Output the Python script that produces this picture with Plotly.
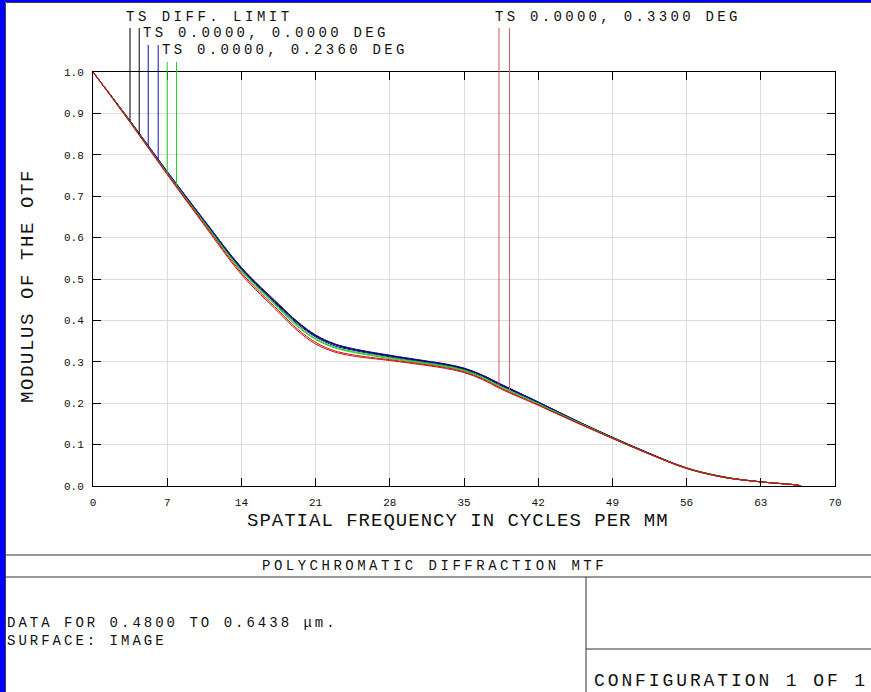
import numpy as np
import plotly.graph_objects as go

# ---- data -------------------------------------------------------------
freq = [0, 3.5, 7, 10.5, 14, 17.5, 19.25, 21, 22.75, 24.5, 28, 31.5, 33.25, 35,
        36.75, 38.5, 42, 45.5, 49, 52.5, 56, 59.5, 63, 66.5, 66.8]

diff_t = [1.000, 0.882, 0.759, 0.641, 0.527, 0.438, 0.397, 0.364, 0.343, 0.331, 0.315, 0.301,
          0.294, 0.284, 0.267, 0.245, 0.203, 0.159, 0.118, 0.079, 0.044, 0.022, 0.010, 0.002, 0.0]
diff_s = [1.000, 0.881, 0.757, 0.639, 0.525, 0.436, 0.395, 0.362, 0.342, 0.330, 0.314, 0.300,
          0.293, 0.283, 0.266, 0.244, 0.202, 0.158, 0.117, 0.078, 0.043, 0.022, 0.010, 0.002, 0.0]
f000_t = [1.000, 0.882, 0.760, 0.642, 0.528, 0.440, 0.398, 0.365, 0.344, 0.332, 0.316, 0.302,
          0.295, 0.285, 0.268, 0.246, 0.203, 0.159, 0.117, 0.078, 0.043, 0.021, 0.010, 0.002, 0.0]
f000_s = [1.000, 0.880, 0.757, 0.638, 0.523, 0.434, 0.392, 0.360, 0.339, 0.328, 0.312, 0.298,
          0.291, 0.281, 0.264, 0.242, 0.201, 0.157, 0.116, 0.078, 0.043, 0.021, 0.010, 0.002, 0.0]
f236_t = [1.000, 0.879, 0.755, 0.635, 0.519, 0.429, 0.386, 0.354, 0.334, 0.323, 0.308, 0.295,
          0.288, 0.278, 0.261, 0.238, 0.198, 0.156, 0.116, 0.077, 0.043, 0.021, 0.010, 0.002, 0.0]
f236_s = [1.000, 0.880, 0.756, 0.637, 0.521, 0.431, 0.389, 0.356, 0.336, 0.325, 0.310, 0.297,
          0.290, 0.280, 0.263, 0.240, 0.199, 0.157, 0.116, 0.077, 0.043, 0.021, 0.010, 0.002, 0.0]
f330_t = [1.000, 0.878, 0.752, 0.630, 0.511, 0.420, 0.376, 0.343, 0.324, 0.314, 0.303, 0.291,
          0.284, 0.274, 0.257, 0.234, 0.195, 0.154, 0.115, 0.077, 0.042, 0.021, 0.010, 0.002, 0.0]
f330_s = [1.000, 0.879, 0.754, 0.633, 0.515, 0.424, 0.380, 0.347, 0.327, 0.317, 0.305, 0.293,
          0.286, 0.276, 0.259, 0.236, 0.196, 0.155, 0.115, 0.077, 0.043, 0.021, 0.010, 0.002, 0.0]

# frequencies where each curve's label leader line meets it (T, S)
leader_freq = {
    "diff": (3.49, 4.36),
    "f000": (5.21, 6.15),
    "f236": (7.00, 7.88),
    "f330": (38.3, 39.3),
}

field_labels = ["TS DIFF. LIMIT", "TS 0.0000, 0.0000 DEG",
                "TS 0.0000, 0.2360 DEG", "TS 0.0000, 0.3300 DEG"]
x_ticks = [0, 7, 14, 21, 28, 35, 42, 49, 56, 63, 70]
y_ticks = [0.0, 0.1, 0.2, 0.3, 0.4, 0.5, 0.6, 0.7, 0.8, 0.9, 1.0]

# ---- page geometry ----------------------------------------------------
W, H = 871, 692
L, R, T, B = 93, 36, 72, 206
PW, PH = W - L - R, H - T - B


def px(xp):
    return (xp - L) / PW


def py(yp):
    return (H - B - yp) / PH


FONT = "Liberation Mono"
TEXT = "#111111"
BLUE, GREEN, RED = "#1010b0", "#20d020", "#d01010"

series = [
    ("diff", diff_t, diff_s, "#000000", 28),
    ("f000", f000_t, f000_s, BLUE, 45),
    ("f236", f236_t, f236_s, GREEN, 62),
    ("f330", f330_t, f330_s, RED, 28),
]

fig = go.Figure()
for key, yt, ys, col, _ in series:
    for yv in (yt, ys):
        fig.add_trace(go.Scatter(
            x=freq, y=yv, mode="lines",
            line=dict(color=col, width=1, shape="spline", smoothing=1.0),
            hoverinfo="skip", showlegend=False))

shapes = []
# leader lines from the label block down to each curve
for key, yt, ys, col, top in series:
    lcol = "rgb(205,95,105)" if key == "f330" else col
    for f, yv in zip(leader_freq[key], (yt, ys)):
        yend = float(np.interp(f, freq, yv))
        shapes.append(dict(type="line", xref="paper", yref="paper",
                           x0=f / 70, x1=f / 70, y0=py(top), y1=yend,
                           line=dict(color=lcol, width=1)))

# window frame
shapes += [
    dict(type="rect", xref="paper", yref="paper", x0=px(0), x1=px(5), y0=py(H), y1=py(0),
         fillcolor="#0000ff", line=dict(width=0), layer="above"),
    dict(type="rect", xref="paper", yref="paper", x0=px(0), x1=px(W), y0=py(2), y1=py(0),
         fillcolor="#0000ff", line=dict(width=0), layer="above"),
    dict(type="line", xref="paper", yref="paper", x0=px(5.5), x1=px(5.5), y0=py(H), y1=py(2.5),
         line=dict(color="#404040", width=1), layer="above"),
    dict(type="line", xref="paper", yref="paper", x0=px(5.5), x1=px(W), y0=py(2.5), y1=py(2.5),
         line=dict(color="#404040", width=1), layer="above"),
]
# info box at the bottom
box = "#303030"
shapes += [
    dict(type="line", xref="paper", yref="paper", x0=px(6), x1=px(W), y0=py(555), y1=py(555),
         line=dict(color=box, width=1)),
    dict(type="line", xref="paper", yref="paper", x0=px(6), x1=px(W), y0=py(577), y1=py(577),
         line=dict(color=box, width=1)),
    dict(type="line", xref="paper", yref="paper", x0=px(586), x1=px(586), y0=py(577), y1=py(H),
         line=dict(color=box, width=1)),
    dict(type="line", xref="paper", yref="paper", x0=px(586), x1=px(W), y0=py(649), y1=py(649),
         line=dict(color=box, width=1)),
]


def spaced(txt, sp):
    return '<span style="letter-spacing:%.1fpx">%s</span>' % (sp, txt)


def note(txt, xp, yp, size, sp, xanchor="left", angle=0):
    return dict(text=spaced(txt, sp), x=px(xp), y=py(yp), xref="paper", yref="paper",
                xanchor=xanchor, yanchor="middle", showarrow=False, textangle=angle,
                font=dict(family=FONT, size=size, color=TEXT))


annotations = [
    note(field_labels[0], 124, 17, 14, 3.5),
    note(field_labels[1], 141, 33, 14, 3.3),
    note(field_labels[2], 160, 50, 14, 3.3),
    note(field_labels[3], 493, 17, 14, 3.3),
    note("SPATIAL FREQUENCY IN CYCLES PER MM", 458, 521, 19, 1.0, xanchor="center"),
    note("MODULUS OF THE OTF", 28, 286, 19, 1.6, xanchor="center", angle=-90),
    note("POLYCHROMATIC DIFFRACTION MTF", 434, 566, 14, 3.5, xanchor="center"),
    note("DATA FOR 0.4800 TO 0.6438 \u03bcm.", 5, 623, 14, 3.0),
    note("SURFACE: IMAGE", 5, 641, 14, 3.0),
    note("CONFIGURATION 1 OF 1", 592, 681, 18, 2.9),
]

axis_common = dict(showline=True, linecolor="#000000", linewidth=1, mirror="ticks",
                   ticks="inside", ticklen=8, tickcolor="#000000", tickwidth=1,
                   showgrid=True, gridcolor="#dcdcdc", gridwidth=1, zeroline=False,
                   tickfont=dict(family=FONT, size=11, color=TEXT))

fig.update_layout(
    width=W, height=H, margin=dict(l=L, r=R, t=T, b=B),
    paper_bgcolor="#ffffff", plot_bgcolor="#ffffff",
    xaxis=dict(range=[0, 70], tickvals=x_ticks, ticktext=[str(v) for v in x_ticks],
               ticklabelstandoff=6, **axis_common),
    yaxis=dict(range=[0, 1], tickvals=y_ticks, ticktext=["%.1f" % v for v in y_ticks],
               ticklabelstandoff=6, **axis_common),
    shapes=shapes, annotations=annotations, showlegend=False,
)

fig.write_html("out.html")
